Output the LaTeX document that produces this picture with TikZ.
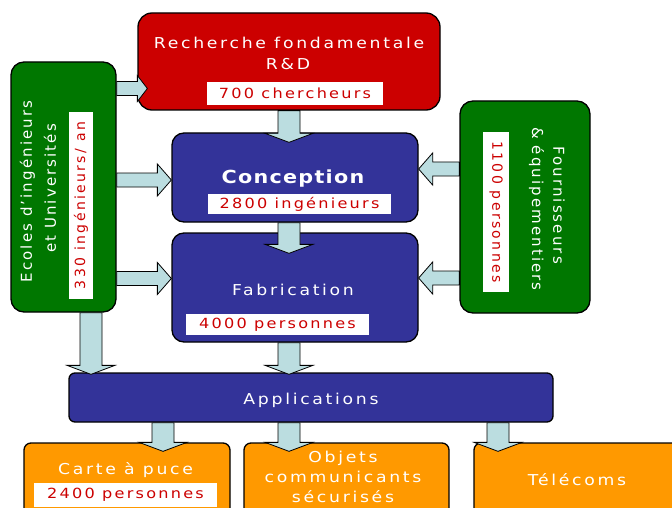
\documentclass[tikz,border=0pt]{standalone}
\usepackage{fontspec}
\setmainfont{DejaVu Sans}[LetterSpace=25]
\usetikzlibrary{calc}

\definecolor{rdred}{HTML}{CC0000}
\definecolor{schoolgreen}{HTML}{007700}
\definecolor{stepblue}{HTML}{333399}
\definecolor{appsorange}{HTML}{FF9900}
\definecolor{pipeblue}{HTML}{BBDDE0}

\tikzstyle{block}=[draw=black, line width=1.3pt, inner sep=0pt]
\tikzstyle{redblock}=[block, fill=rdred, rounded corners=14pt]
\tikzstyle{greenblock}=[block, fill=schoolgreen, rounded corners=13pt]
\tikzstyle{blueblock}=[block, fill=stepblue, rounded corners=12pt]
\tikzstyle{orangeblock}=[block, fill=appsorange, rounded corners=7pt]
\tikzstyle{title}=[text=white, inner sep=0pt, font=\fontsize{15}{20}\selectfont\addfontfeature{FakeStretch=1.15,LetterSpace=18}]
\tikzstyle{sidetitle}=[text=white, inner sep=0pt, font=\fontsize{15}{17}\selectfont\addfontfeature{LetterSpace=14}]
\tikzstyle{tag}=[fill=white, text=rdred, inner sep=0pt, font=\fontsize{14}{16}\selectfont\addfontfeature{FakeStretch=1.15,LetterSpace=16}]
\tikzstyle{sidetag}=[fill=white, text=rdred, inner sep=0pt, font=\fontsize{14}{16}\selectfont\addfontfeature{LetterSpace=17}]
\tikzstyle{flow}=[draw=black, fill=pipeblue, line width=0.8pt]
\tikzset{
  pipe/.style n args={4}{to path={
    let \p1=(\tikztostart), \p2=(\tikztotarget),
        \n1={veclen(\x2-\x1,\y2-\y1)+#4}, \n2={atan2(\y2-\y1,\x2-\x1)} in
    ([shift={(\p1)},rotate=\n2]0,-#1) -- ([shift={(\p1)},rotate=\n2]\n1-#3,-#1)
    -- ([shift={(\p1)},rotate=\n2]\n1-#3,-#2) -- ([shift={(\p1)},rotate=\n2]\n1,0)
    -- ([shift={(\p1)},rotate=\n2]\n1-#3,#2) -- ([shift={(\p1)},rotate=\n2]\n1-#3,#1)
    -- ([shift={(\p1)},rotate=\n2]0,#1) -- cycle}},
  vflow/.style={pipe={11}{24}{9}{#1}}, vflow/.default=0,
  hflow/.style={pipe={7}{16}{14}{#1}}, hflow/.default=0
}

\begin{document}
\begin{tikzpicture}[x=1pt,y=-1pt]
\useasboundingbox (0,0) rectangle (672,508);
\clip (0,0) rectangle (672,508);

% boxes
\node[redblock, minimum width=302pt, minimum height=97pt] (rd) at (289,61.5) {};
\node[greenblock, minimum width=105pt, minimum height=250pt] (lg) at (63.5,187) {};
\node[greenblock, minimum width=130pt, minimum height=212pt] (rg) at (525,207) {};
\node[blueblock, minimum width=246pt, minimum height=89pt] (cons) at (295,177.5) {};
\node[blueblock, minimum width=246pt, minimum height=109pt] (fab) at (295,287.5) {};
\node[blueblock, rounded corners=6pt, minimum width=484pt, minimum height=49pt] (app) at (311,397.5) {};
\node[orangeblock, minimum width=206pt, minimum height=97pt] (carte) at (127,491.5) {};
\node[orangeblock, minimum width=205pt, minimum height=97pt] (obj) at (346.5,491.5) {};
\node[orangeblock, minimum width=216pt, minimum height=97pt] (tel) at (582,491.5) {};

% flows
\path[flow] ($(lg.east|-rd.west)+(0,27)$) to[pipe={7}{13}{10}{10}] ($(rd.west)+(0,27)$);
\path[flow] (rd.south) to[vflow=10] (rd.south|-cons.north);
\path[flow] ($(lg.east|-cons.west)+(0,2.5)$) to[hflow] ($(cons.west)+(0,2.5)$);
\path[flow] ($(rg.west|-cons.east)+(0,-8.5)$) to[hflow] ($(cons.east)+(0,-8.5)$);
\path[flow] (rd.south|-cons.south) to[vflow=21] (rd.south|-fab.north);
\path[flow] ($(lg.east|-fab.west)+(0,-9)$) to[hflow] ($(fab.west)+(0,-9)$);
\path[flow] ($(rg.west|-fab.east)+(0,-9.5)$) to[hflow] ($(fab.east)+(0,-9.5)$);
\path[flow] ($(lg.south)+(27.5,0)$) to[vflow=2] ($(lg.south|-app.north)+(27.5,0)$);
\path[flow] (rd.south|-fab.south) to[vflow=2] (rd.south|-app.north);
\path[flow] ($(app.south-|carte.north)+(36,0)$) to[vflow=9] ($(carte.north)+(36,0)$);
\path[flow] (rd.south|-app.south) to[vflow=9] (rd.south|-obj.north);
\path[flow] ($(app.south-|tel.north)+(-84,0)$) to[vflow=9] ($(tel.north)+(-84,0)$);

% labels
\node[title] (rdname) at (289,43) {Recherche fondamentale};
\node[title] (rdshort) at (288,64) {R\&D};
\node[tag, minimum width=176pt, minimum height=23pt] (rdtag) at (295,93.5) {700 chercheurs};
\node[title, font=\fontsize{18}{20}\selectfont\bfseries\addfontfeature{FakeStretch=1.15,LetterSpace=7}] (consname) at (293,179) {Conception};
\node[tag, minimum width=183pt, minimum height=20pt] (constag) at (299.5,204) {2800 ingénieurs};
\node[title] (fabname) at (293,290) {Fabrication};
\node[tag, minimum width=183pt, minimum height=21pt] (fabtag) at (277.5,324.5) {4000 personnes};
\node[title] (appname) at (311,400) {Applications};
\node[title] (cartename) at (125.5,470) {Carte à puce};
\node[tag, minimum width=183pt, minimum height=24pt] (cartetag) at (125.5,495) {2400 personnes};
\node[title, align=center] (objname) at (343,477) {Objets\\communicants\\sécurisés};
\node[title] (telname) at (577,480) {Télécoms};

\node[sidetitle, rotate=90] (lgname) at (27.5,191.5) {Ecoles d'ingénieurs};
\node[sidetitle, rotate=90] (lgsub) at (50,188.5) {et Universités};
\node[sidetag, rotate=90, minimum width=187pt, minimum height=24pt] (lgtag) at (81,205.5) {330 ingénieurs/ an};
\node[sidetitle, rotate=-90] (rgname) at (559,205) {Fournisseurs};
\node[sidetitle, rotate=-90] (rgsub) at (536.5,209) {\& équipementiers};
\node[sidetag, rotate=-90, minimum width=160pt, minimum height=26pt] (rgtag) at (496,212) {1100 personnes};
\end{tikzpicture}
\end{document}
